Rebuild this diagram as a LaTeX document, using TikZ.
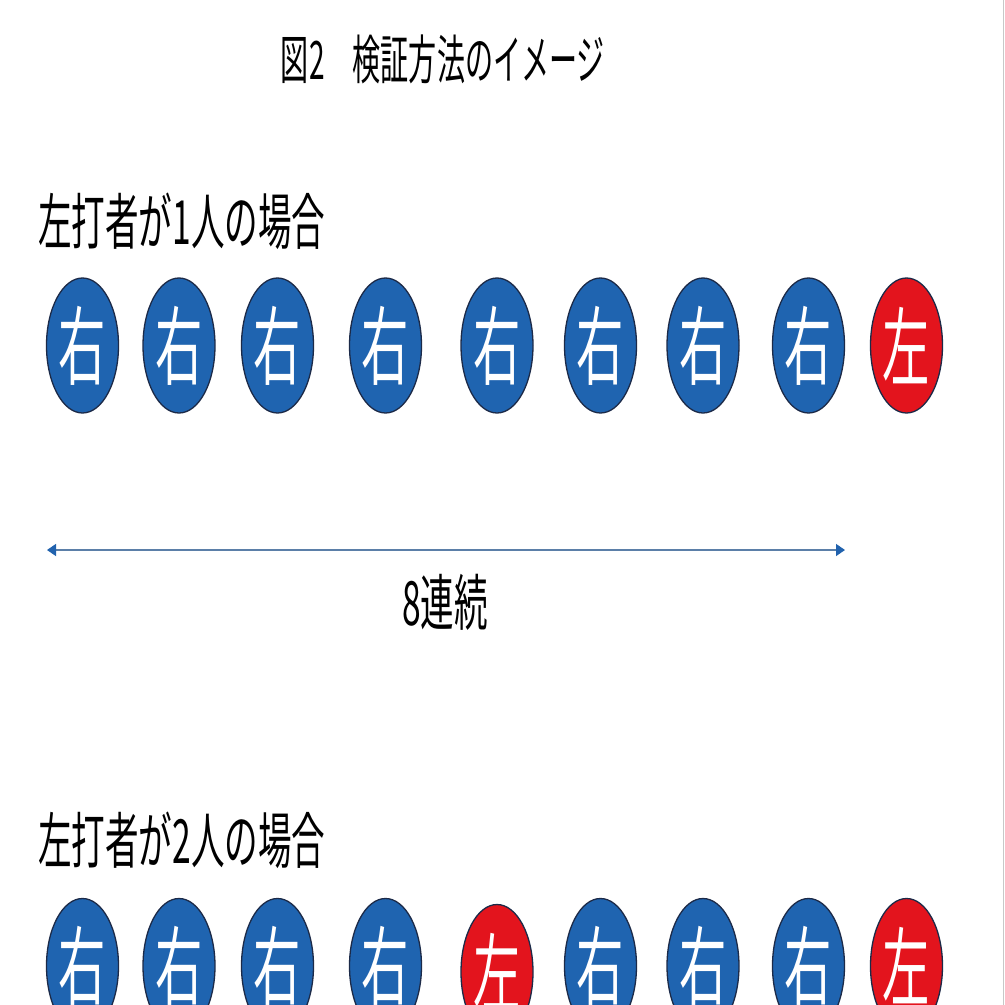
\documentclass[tikz,border=0pt]{standalone}
\usepackage{fontspec}
\usepackage{graphicx}
\newfontfamily\jp{Noto Sans CJK JP}
\usetikzlibrary{shapes.geometric,arrows.meta}
\definecolor{ballblue}{HTML}{1F64B0}
\definecolor{ballred}{HTML}{E3141D}
\definecolor{ballline}{HTML}{1C2A48}
\definecolor{arrline}{HTML}{5B7FA8}
\definecolor{arrhead}{HTML}{2162AE}
\definecolor{edgegray}{HTML}{C8C8C8}
\newcommand{\sqtext}[3]{\scalebox{#1}[1]{\fontsize{#2}{#2}\selectfont\jp #3}}
\tikzset{
  ball/.style={ellipse, draw=ballline, line width=1.3pt, minimum width=72pt, minimum height=135pt, inner sep=0pt},
  bball/.style={ball, fill=ballblue},
  rball/.style={ball, fill=ballred},
  balltext/.style={text=white, inner sep=0pt},
  heading/.style={anchor=west, inner sep=0pt, text=black},
  plain/.style={inner sep=0pt, text=black},
  dimarrow/.style={draw=arrline, line width=1.4pt,
    {Triangle[length=9pt,width=12pt,color=arrhead]}-{Triangle[length=9pt,width=12pt,color=arrhead]}},
  edgeline/.style={draw=edgegray, line width=1.5pt}
}
\begin{document}
\begin{tikzpicture}[x=1pt,y=-1pt]
\useasboundingbox (0,0) rectangle (1005,1005);
\fill[white] (0,0) rectangle (1005,1005);
\coordinate (eT) at (1003.5,0);
\coordinate (eB) at (1003.5,1005);
\draw[edgeline] (eT) -- (eB);

\node[plain] (title) at (443,59) {\sqtext{0.53}{53}{図2　検証方法のイメージ}};

\node[heading] (h1) at (38,221) {\sqtext{0.55}{61}{左打者が1人の場合}};
\node[heading] (h2) at (38,840) {\sqtext{0.55}{61}{左打者が2人の場合}};

% row 1
\foreach \i/\x/\k in {1/82.5/b,2/179/b,3/277.5/b,4/385.5/b,5/497/b,6/600.5/b,7/703/b,8/808.5/b,9/906.5/r}{
  \if\k b
    \node[bball] (a\i) at (\x,345.5) {};
    \node[balltext] (at\i) at (a\i) {\sqtext{0.55}{86}{右}};
  \else
    \node[rball] (a\i) at (\x,345.5) {};
    \node[balltext] (at\i) at (a\i) {\sqtext{0.55}{86}{左}};
  \fi
}

% row 2
\foreach \i/\x/\y/\k in {1/82.5/966/b,2/179/966/b,3/277.5/966/b,4/385.5/966/b,5/497/972/r,6/600.5/966/b,7/703/966/b,8/808.5/966/b,9/906.5/966/r}{
  \if\k b
    \node[bball] (c\i) at (\x,\y) {};
    \node[balltext] (ct\i) at (c\i) {\sqtext{0.55}{86}{右}};
  \else
    \node[rball] (c\i) at (\x,\y) {};
    \node[balltext] (ct\i) at (c\i) {\sqtext{0.55}{86}{左}};
  \fi
}

\coordinate (aL) at (47,550);
\coordinate (aR) at (845,550);
\draw[dimarrow] (aL) -- (aR);
\node[plain] (len) at (445,602) {\sqtext{0.55}{61}{8連続}};
\end{tikzpicture}
\end{document}
